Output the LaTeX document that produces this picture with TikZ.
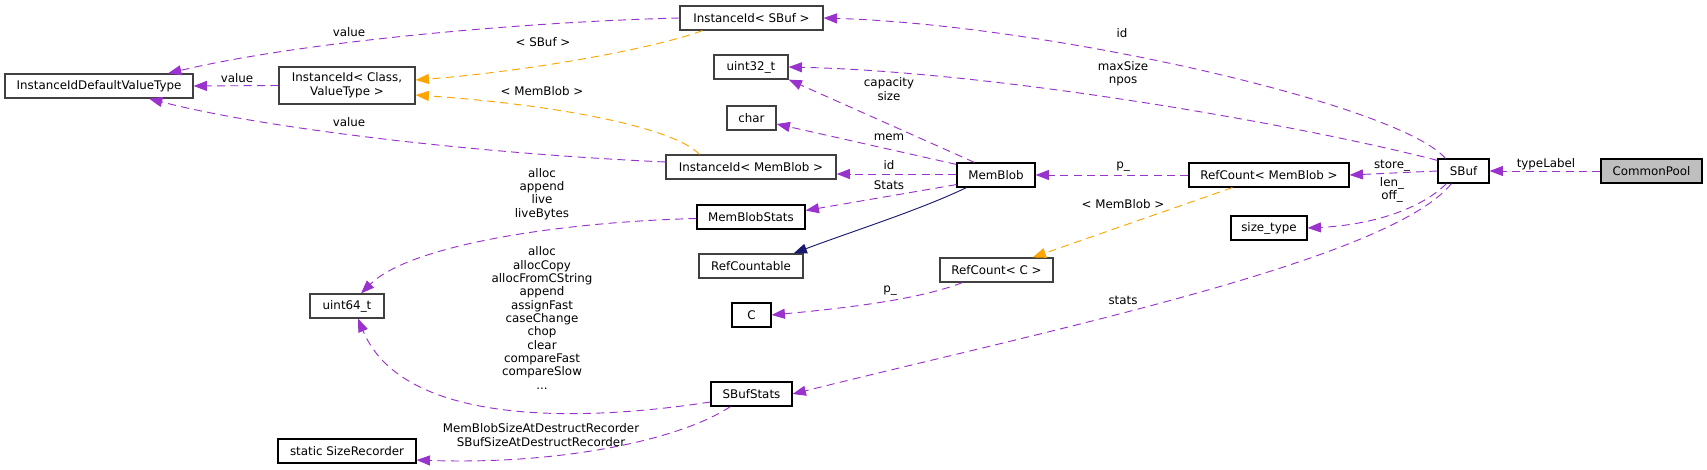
\documentclass[tikz,border=0pt]{standalone}
\usepackage{fontspec}
\setmainfont{DejaVu Sans}
\usetikzlibrary{arrows.meta,calc}
\definecolor{depc}{HTML}{9A32CD}
\definecolor{tplc}{HTML}{FFA500}
\definecolor{inhc}{HTML}{191970}
\definecolor{bordc}{HTML}{404040}
\definecolor{cpfill}{HTML}{BFBFBF}
\newcommand\mkbox[7]{\node[box,#7,minimum width={(#4-#2)*0.75pt},minimum height={(#5-#3)*0.75pt}] (#1) at ({(#2+#4)/2},{(#3+#5)/2}) {#6};}
\tikzset{
  box/.style={draw=black, line width=0.9pt, inner sep=0pt, fill=white, align=center,
    font=\fontsize{8.9}{10.2}\selectfont},
  gbox/.style={draw=bordc},
  lbl/.style={font=\fontsize{8.9}{10}\selectfont, align=center, inner sep=0pt},
  dep/.style={draw=depc, line width=0.7pt, dash pattern=on 6pt off 4pt,
    -{Triangle[length=10pt,width=7.5pt]}},
  tpl/.style={draw=tplc, line width=0.7pt, dash pattern=on 6pt off 4pt,
    -{Triangle[length=10pt,width=7.5pt]}},
  inh/.style={draw=inhc, line width=0.7pt, -{Triangle[length=10pt,width=7.5pt]}},
}
\begin{document}
\begin{tikzpicture}[x=0.75pt,y=-0.75pt]
\useasboundingbox (0,0) rectangle (1707,470);
% nodes
\mkbox{ividvt}{5}{74}{193}{98}{InstanceIdDefaultValueType}{gbox}
\mkbox{iicvt}{279}{67}{415}{104}{InstanceId< Class,\\ValueType >}{gbox}
\mkbox{iisbuf}{680}{6}{823}{30}{InstanceId< SBuf >}{gbox}
\mkbox{u32}{714}{55}{788}{79}{uint32\_t}{gbox}
\mkbox{chr}{727}{106}{776}{130}{char}{gbox}
\mkbox{iimb}{666}{155}{836}{179}{InstanceId< MemBlob >}{gbox}
\mkbox{mbs}{697}{205}{805}{229}{MemBlobStats}{}
\mkbox{rcable}{699}{254}{803}{278}{RefCountable}{gbox}
\mkbox{cc}{732}{303}{771}{327}{C}{}
\mkbox{sbs}{711}{382}{792}{406}{SBufStats}{}
\mkbox{u64}{310}{294}{384}{318}{uint64\_t}{gbox}
\mkbox{ssr}{278}{439}{416}{463}{static SizeRecorder}{}
\mkbox{mb}{957}{163}{1035}{187}{MemBlob}{}
\mkbox{rcc}{940}{258}{1053}{282}{RefCount< C >}{gbox}
\mkbox{rcmb}{1189}{163}{1349}{187}{RefCount< MemBlob >}{}
\mkbox{szt}{1231}{216}{1307}{240}{size\_type}{}
\mkbox{sbuf}{1438}{159}{1489}{183}{SBuf}{}
\mkbox{cp}{1601}{159}{1702}{183}{CommonPool}{fill=cpfill}
% edges
\draw[dep] (iisbuf.west) .. controls (520,22) and (300,42) .. ($(ividvt.north)+(69,0)$);
\draw[dep] (iicvt.west) -- (ividvt.east);
\draw[dep] ($(iimb.west)+(0,-5)$) .. controls (450,152) and (250,125) .. ($(ividvt.south)+(50,0)$);
\draw[tpl] ($(iisbuf.south west)+(23,0)$) .. controls (650,50) and (520,72) .. ($(iicvt.east)+(0,-5.5)$);
\draw[tpl] ($(iimb.north west)+(34,0)$) .. controls (675,128) and (560,105) .. ($(iicvt.east)+(0,9.5)$);
\draw[dep] ($(sbuf.north west)+(8,0)$) .. controls (1400,105) and (1050,25) .. (iisbuf.east);
\draw[dep] ($(sbuf.north west)+(0,2)$) .. controls (1300,125) and (1000,72) .. (u32.east);
\draw[dep] ($(mb.north west)+(18,0)$) -- (u32.south east);
\draw[dep] ($(mb.north west)+(0,2)$) -- ($(chr.east)+(0,6)$);
\draw[dep] ($(mb.west)+(0,-1)$) -- ($(iimb.east)+(0,7)$);
\draw[dep] ($(mb.south west)+(0,-3)$) -- ($(mbs.east)+(0,-6.5)$);
\draw[inh] ($(mb.south west)+(10,0)$) .. controls (920,210) and (850,232) .. ($(rcable.north east)+(-10,0)$);
\draw[dep] (rcmb.west) -- (mb.east);
\draw[tpl] ($(rcmb.south west)+(44,0)$) -- ($(rcc.north east)+(-21,0)$);
\draw[dep] ($(rcc.south west)+(23,0)$) .. controls (930,295) and (880,305) .. (cc.east);
\draw[dep] (sbuf.west) -- (rcmb.east);
\draw[dep] ($(sbuf.south west)+(9,0)$) .. controls (1420,210) and (1370,225) .. (szt.east);
\draw[dep] ($(sbuf.south west)+(14,0)$) .. controls (1390,260) and (1050,330) .. (sbs.east);
\draw[dep] (cp.west) -- (sbuf.east);
\draw[dep] ($(mbs.west)+(0,1.5)$) .. controls (560,222) and (410,245) .. ($(u64.north)+(14,0)$);
\draw[dep] ($(sbs.west)+(0,8)$) .. controls (560,425) and (400,420) .. ($(u64.south)+(11,0)$);
\draw[dep] ($(sbs.south west)+(20,0)$) .. controls (680,440) and (560,465) .. ($(ssr.east)+(0,9)$);
% labels
\node[lbl] (l1) at (349,32) {value};
\node[lbl] (l2) at (237,78) {value};
\node[lbl] (l3) at (349,122) {value};
\node[lbl] (l4) at (543,42) {< SBuf >};
\node[lbl] (l5) at (542,91) {< MemBlob >};
\node[lbl] (l6) at (1122,33) {id};
\node[lbl] (l7) at (1123,74) {maxSize\\npos};
\node[lbl] (l8) at (889,89) {capacity\\size};
\node[lbl] (l9) at (889,137) {mem};
\node[lbl] (l10) at (889,165) {id};
\node[lbl] (l11) at (889,185) {Stats};
\node[lbl] (l12) at (1123,167) {p\_};
\node[lbl] (l13) at (1123,204) {< MemBlob >};
\node[lbl] (l14) at (890,291) {p\_};
\node[lbl] (l15) at (1392,166) {store\_};
\node[lbl] (l16) at (1392,190) {len\_\\off\_};
\node[lbl] (l17) at (1546,164) {typeLabel};
\node[lbl] (l18) at (1123,300) {stats};
\node[lbl] (l19) at (542,194) {alloc\\append\\live\\liveBytes};
\node[lbl] (l20) at (542,318) {alloc\\allocCopy\\allocFromCString\\append\\assignFast\\caseChange\\chop\\clear\\compareFast\\compareSlow\\...};
\node[lbl] (l21) at (541,435) {MemBlobSizeAtDestructRecorder\\SBufSizeAtDestructRecorder};
\end{tikzpicture}
\end{document}
